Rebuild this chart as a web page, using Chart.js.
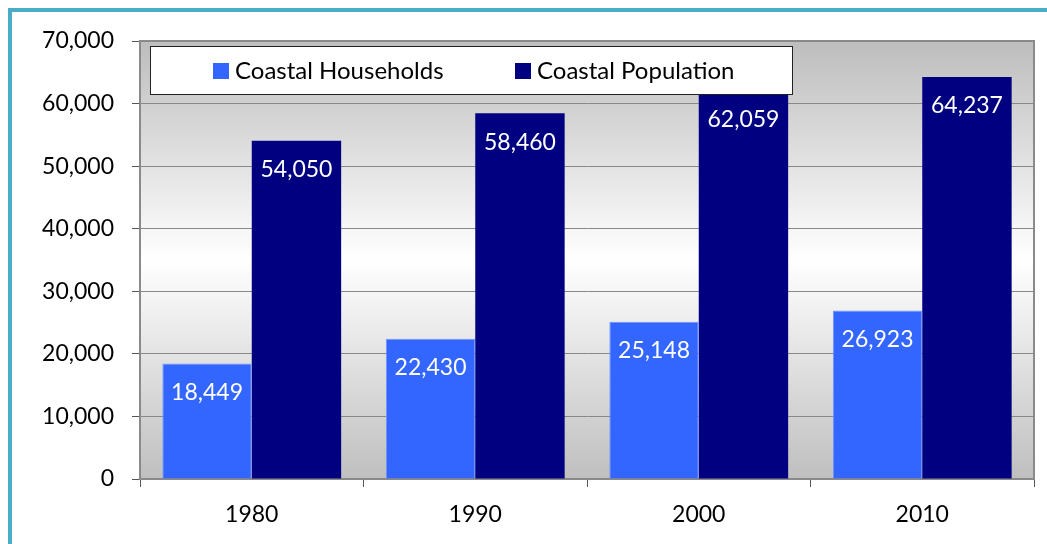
<!DOCTYPE html>
<html>
<head>
<meta charset="utf-8">
<script src="https://cdn.jsdelivr.net/npm/chart.js@4"></script>
<style>
  html, body { margin: 0; padding: 0; background: #fff; }
  #wrap { position: relative; width: 1047px; height: 544px; overflow: hidden; }
  #frame { position: absolute; left: 8px; top: 8px; width: 1100px; height: 600px;
           border-left: 4px solid #4BACC6; border-top: 4px solid #4BACC6; }
  canvas { position: absolute; left: 0; top: 0; }
</style>
</head>
<body>
<div id="wrap">
  <div id="frame"></div>
  <canvas id="chart" width="1047" height="544"></canvas>
</div>
<script>
const years = ["1980", "1990", "2000", "2010"];
const households = [18449, 22430, 25148, 26923];
const population = [54050, 58460, 62059, 64237];
const seriesNames = ["Coastal Households", "Coastal Population"];
const FONT = "Lato, 'Open Sans', sans-serif";

const plotBg = {
  id: "plotBg",
  beforeDraw(chart) {
    const a = chart.chartArea, ctx = chart.ctx;
    const g = ctx.createLinearGradient(0, a.top, 0, a.bottom);
    g.addColorStop(0, "#bdbdbd");
    g.addColorStop(0.5, "#ffffff");
    g.addColorStop(1, "#bfbfbf");
    ctx.save();
    ctx.fillStyle = g;
    ctx.fillRect(a.left, a.top, a.right - a.left, a.bottom - a.top);
    ctx.restore();
  },
  afterDraw(chart) {
    const a = chart.chartArea, ctx = chart.ctx;
    ctx.save();
    // right + top border of plot
    ctx.strokeStyle = "#8a8a8a";
    ctx.lineWidth = 2;
    ctx.beginPath();
    ctx.moveTo(a.left, a.top);
    ctx.lineTo(a.right, a.top);
    ctx.lineTo(a.right, a.bottom);
    ctx.stroke();

    // value labels
    ctx.fillStyle = "#ffffff";
    ctx.font = "23px " + FONT;
    ctx.textAlign = "center";
    ctx.textBaseline = "middle";
    chart.data.datasets.forEach((ds, i) => {
      chart.getDatasetMeta(i).data.forEach((bar, j) => {
        ctx.fillText(ds.data[j].toLocaleString("en-US"), bar.x, bar.y + 29);
      });
    });

    // legend box
    const lx = 150, ly = 46, lw = 642, lh = 48;
    ctx.fillStyle = "#ffffff";
    ctx.fillRect(lx, ly, lw, lh);
    ctx.strokeStyle = "#222";
    ctx.lineWidth = 1;
    ctx.strokeRect(lx + 0.5, ly + 0.5, lw, lh);
    const itemX = [213, 515];
    ctx.font = "24px " + FONT;
    ctx.textAlign = "left";
    ctx.textBaseline = "middle";
    chart.data.datasets.forEach((ds, i) => {
      ctx.fillStyle = ds.backgroundColor;
      ctx.fillRect(itemX[i], 63, 16, 16);
      ctx.fillStyle = "#000";
      ctx.fillText(ds.label, itemX[i] + 22, 71);
    });
    ctx.restore();
  }
};

new Chart(document.getElementById("chart"), {
  type: "bar",
  data: {
    labels: years,
    datasets: [
      { label: seriesNames[0], data: households, backgroundColor: "#3366ff",
        borderColor: "#7393ff", borderWidth: 1 },
      { label: seriesNames[1], data: population, backgroundColor: "#000080" }
    ]
  },
  options: {
    responsive: false,
    devicePixelRatio: 1,
    animation: false,
    layout: { padding: { top: 41, right: 13, left: 0, bottom: 0 } },
    datasets: { bar: { categoryPercentage: 0.8, barPercentage: 1.0 } },
    plugins: { legend: { display: false }, tooltip: { enabled: false } },
    scales: {
      x: {
        grid: { drawOnChartArea: false, drawTicks: true, tickLength: 8, tickColor: "#555", offset: true },
        border: { color: "#8a8a8a", width: 2 },
        ticks: { color: "#000", font: { family: FONT, size: 23 }, padding: 14 },
        afterFit(scale) { scale.height = 65; }
      },
      y: {
        min: 0, max: 70000,
        grid: { color: "#888", lineWidth: 1, tickLength: 8, tickColor: "#555" },
        border: { color: "#8a8a8a", width: 2 },
        ticks: { stepSize: 10000, color: "#000", font: { family: FONT, size: 23 }, padding: 18 },
        afterFit(scale) { scale.width = 140; }
      }
    }
  },
  plugins: [plotBg]
});
</script>
</body>
</html>
